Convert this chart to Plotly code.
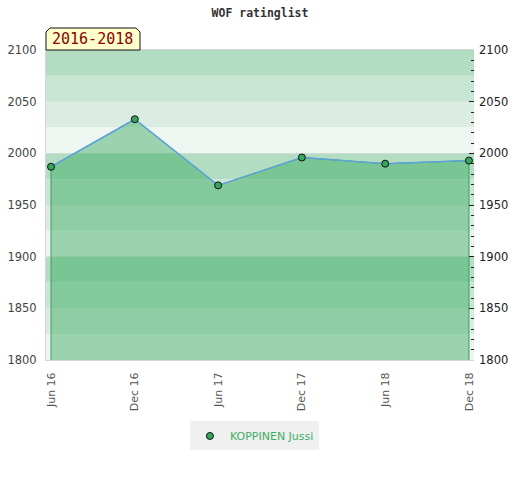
import plotly.graph_objects as go

# ratings
periods = ["2016-06-01", "2016-12-01", "2017-06-01", "2017-12-01", "2018-06-01", "2018-12-01"]
ratings = [1987, 2033, 1969, 1996, 1990, 1993]
player = "KOPPINEN Jussi"
title = "WOF ratinglist"
span_label = "2016-2018"

y_min, y_max = 1800, 2100
band_colors = ["#b3ddc3", "#c8e6d4", "#dbede2", "#eef6f1"]
band_step = 25

fig = go.Figure()

# filled area under the rating line, closed down to the axis floor
fig.add_trace(go.Scatter(
    x=[periods[0]] + periods + [periods[-1]],
    y=[y_min] + ratings + [y_min],
    mode="lines",
    fill="toself",
    fillcolor="rgba(50,168,90,0.45)",
    line=dict(color="#3a9d5d", width=1),
    hoverinfo="skip",
    showlegend=False,
))
fig.add_trace(go.Scatter(
    x=periods, y=ratings, mode="lines",
    line=dict(color="#5ea3d9", width=1.5),
    showlegend=False,
))
fig.add_trace(go.Scatter(
    x=periods, y=ratings, mode="markers", name=player,
    marker=dict(size=7, color="#34a85a", line=dict(color="#111", width=1)),
))
# invisible trace only to carry the right-hand axis
fig.add_trace(go.Scatter(x=periods, y=ratings, yaxis="y2", mode="none",
                         showlegend=False, hoverinfo="skip"))

# horizontal colour bands
shapes = []
lo = y_max
i = 0
while lo > y_min:
    shapes.append(dict(type="rect", xref="paper", yref="y", x0=0, x1=1,
                       y0=lo - band_step, y1=lo, fillcolor=band_colors[i % 4],
                       line=dict(width=0), layer="below"))
    lo -= band_step
    i += 1

# the tab with the year span, corners cut off
shapes.append(dict(
    type="path", xref="paper", yref="paper",
    path="M 0 1 L 0 1.058 L 0.009 1.071 L 0.210 1.071 L 0.2196 1.058 L 0.2196 1 Z",
    fillcolor="#ffffcc", line=dict(color="#111", width=1), layer="above"))

fig.update_layout(
    width=520, height=480,
    margin=dict(l=46, r=46, t=50, b=120),
    paper_bgcolor="white", plot_bgcolor="white",
    title=dict(text=title, x=0.5, xanchor="center", y=0.973, yref="container",
               yanchor="middle",
               font=dict(family="DejaVu Sans Mono", size=11.5, color="#333", weight="bold")),
    shapes=shapes,
    annotations=[dict(text=span_label, xref="paper", yref="paper", x=0.1098, y=1.035,
                      xanchor="center", yanchor="middle", showarrow=False,
                      font=dict(family="DejaVu Sans Mono", size=15, color="#8b0000"))],
    xaxis=dict(type="date", range=["2016-05-21", "2018-12-12"],
               tick0="2016-06-01", dtick="M6", tickformat="%b %y",
               tickangle=-90, showgrid=False, zeroline=False,
               showline=True, linecolor="#d6d6d6", mirror=True,
               ticklabelstandoff=7, automargin=False,
               tickfont=dict(family="DejaVu Sans", size=11, color="#555")),
    yaxis=dict(range=[y_min, y_max], dtick=50, showgrid=True,
               gridcolor="rgba(215,215,215,0.5)", zeroline=False,
               showline=True, linecolor="#d6d6d6", ticklabelstandoff=6,
               automargin=False,
               tickfont=dict(family="DejaVu Sans", size=11.5, color="#444")),
    yaxis2=dict(range=[y_min, y_max], dtick=50, overlaying="y", side="right",
                showgrid=False, zeroline=False, showline=False, automargin=False,
                ticks="inside", ticklen=5, tickcolor="#222", ticklabelstandoff=4,
                minor=dict(dtick=10, ticks="inside", ticklen=3, tickcolor="#222"),
                tickfont=dict(family="DejaVu Sans", size=11.5, color="#222")),
    legend=dict(x=0.487, xanchor="center", y=-0.245, yanchor="middle",
                orientation="h", bgcolor="#f0f0f0",
                font=dict(family="DejaVu Sans", size=11, color="#3cae63")),
)

fig.write_html("out.html", config={"displayModeBar": False},
               post_script="document.body.style.margin='0';")
